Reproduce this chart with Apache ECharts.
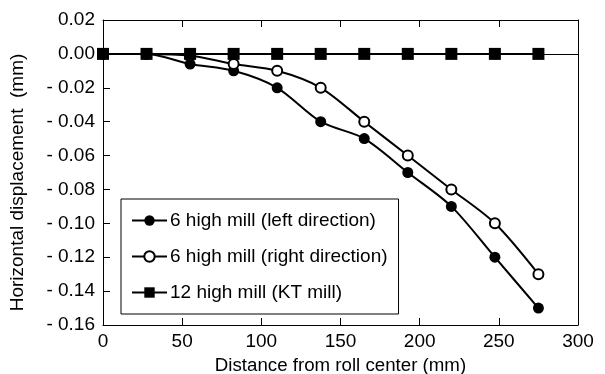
<!DOCTYPE html>
<html>
<head>
<meta charset="utf-8">
<script src="https://cdn.jsdelivr.net/npm/echarts@6/dist/echarts.min.js"></script>
<style>
  html, body { margin: 0; padding: 0; background: #fff; }
  #chart { width: 605px; height: 374px; }
</style>
</head>
<body>
<div id="chart"></div>
<script>
var distance = [0, 27.5, 55, 82.5, 110, 137.5, 165, 192.5, 220, 247.5, 275];
var leftDir = [0, 0, -0.006, -0.01, -0.02, -0.04, -0.05, -0.07, -0.09, -0.12, -0.15];
var rightDir = [0, 0, -0.001, -0.006, -0.01, -0.02, -0.04, -0.06, -0.08, -0.1, -0.13];
var ktMill = [0, 0, 0, 0, 0, 0, 0, 0, 0, 0, 0];
var seriesNames = ["6 high mill (left direction)", "6 high mill (right direction)", "12 high mill (KT mill)"];

function pairs(ys) {
  return distance.map(function (x, i) { return [x, ys[i]]; });
}

var myChart = echarts.init(document.getElementById("chart"));
var font = "Liberation Sans, Arial, sans-serif";

var option = {
  animation: false,
  textStyle: { fontFamily: font, color: "#000" },
  grid: { left: 103, right: 27, top: 20, bottom: 49, outerBoundsMode: "none", containLabel: false },
  legend: {
    orient: "vertical",
    left: 121,
    top: 199,
    padding: [12, 11, 12, 10],
    itemGap: 17,
    itemWidth: 35,
    itemHeight: 13,
    borderColor: "#000",
    borderWidth: 1,
    backgroundColor: "#fff",
    textStyle: { fontSize: 19, color: "#000", fontFamily: font, padding: [0, 0, 0, -2] },
    data: seriesNames
  },
  xAxis: [
    {
      type: "value",
      min: 0, max: 300, interval: 50,
      name: "Distance from roll center (mm)",
      nameLocation: "middle",
      nameGap: 31,
      nameTextStyle: { fontSize: 18.7, color: "#000" },
      axisLine: { show: true, onZero: false, lineStyle: { color: "#000", width: 1 } },
      axisTick: { inside: true, length: 7, lineStyle: { color: "#000" } },
      axisLabel: { fontSize: 19, color: "#000", margin: 7 },
      splitLine: { show: false }
    },
    {
      type: "value",
      position: "top",
      min: 0, max: 300, interval: 50,
      axisLine: { show: true, onZero: false, lineStyle: { color: "#000", width: 1 } },
      axisTick: { show: true, inside: true, length: 7, lineStyle: { color: "#000" } },
      axisLabel: { show: false },
      splitLine: { show: false }
    }
  ],
  yAxis: [
    {
      type: "value",
      min: -0.16, max: 0.02, interval: 0.02,
      name: "Horizontal displacement  (mm)",
      nameLocation: "middle",
      nameGap: 76,
      nameTextStyle: { fontSize: 19, color: "#000", padding: [0, 20, 0, 0] },
      axisLine: { show: true, onZero: false, lineStyle: { color: "#000", width: 1 } },
      axisTick: { show: true, inside: true, length: 7, lineStyle: { color: "#000" } },
      axisLabel: {
        fontSize: 19, color: "#000", margin: 8,
        formatter: function (v) {
          var r = Math.round(v * 100) / 100;
          return r < 0 ? "- " + Math.abs(r).toFixed(2) : r.toFixed(2);
        }
      },
      splitLine: { show: false }
    },
    {
      type: "value",
      position: "right",
      min: -0.16, max: 0.02, interval: 0.02,
      axisLine: { show: true, onZero: false, lineStyle: { color: "#000", width: 1 } },
      axisTick: { show: false },
      axisLabel: { show: false },
      splitLine: { show: false }
    }
  ],
  series: [
    {
      name: seriesNames[0],
      type: "line",
      smooth: 0.3,
      data: pairs(leftDir),
      symbol: "circle",
      symbolSize: 11,
      lineStyle: { color: "#000", width: 2 },
      itemStyle: { color: "#000" },
      z: 3
    },
    {
      name: seriesNames[1],
      type: "line",
      smooth: 0.3,
      data: pairs(rightDir),
      symbol: "emptyCircle",
      symbolSize: 10,
      lineStyle: { color: "#000", width: 2 },
      itemStyle: { color: "#000", borderColor: "#000", borderWidth: 1.3 },
      z: 3
    },
    {
      name: seriesNames[2],
      type: "line",
      data: pairs(ktMill),
      symbol: "rect",
      symbolSize: 12,
      lineStyle: { color: "#000", width: 2 },
      itemStyle: { color: "#000" },
      markLine: {
        silent: true,
        symbol: "none",
        label: { show: false },
        lineStyle: { color: "#000", width: 1, type: "solid" },
        data: [{ yAxis: 0 }]
      },
      z: 4
    }
  ]
};

option && myChart.setOption(option);
</script>
</body>
</html>
